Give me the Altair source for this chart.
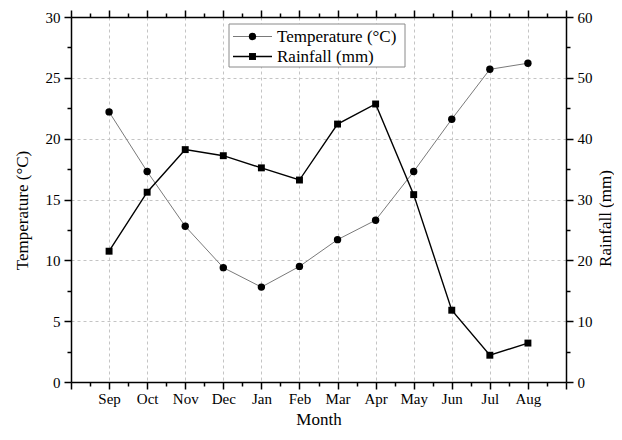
import altair as alt
import pandas as pd

# ---- data ----
months = ["Sep", "Oct", "Nov", "Dec", "Jan", "Feb", "Mar", "Apr", "May", "Jun", "Jul", "Aug"]
month_pos = [1, 2, 3, 4, 5, 6, 7, 8, 9, 10, 11, 12]
temperature = [22.2, 17.3, 12.8, 9.4, 7.8, 9.5, 11.7, 13.3, 17.3, 21.6, 25.7, 26.2]
rainfall = [21.5, 31.2, 38.2, 37.2, 35.2, 33.2, 42.4, 45.7, 30.8, 11.8, 4.4, 6.4]
series = ["Temperature (°C)", "Rainfall (mm)"]

x_ticks = [0, 0.5, 1, 1.5, 2, 2.5, 3, 3.5, 4, 4.5, 5, 5.5, 6, 6.5, 7, 7.5,
           8, 8.5, 9, 9.5, 10, 10.5, 11, 11.5, 12, 12.5, 13]
temp_ticks = [0, 2.5, 5, 7.5, 10, 12.5, 15, 17.5, 20, 22.5, 25, 27.5, 30]
rain_ticks = [0, 5, 10, 15, 20, 25, 30, 35, 40, 45, 50, 55, 60]

FONT = "Liberation Serif"

df = pd.DataFrame({"pos": month_pos, "month": months,
                   "temp": temperature, "rain": rainfall})

month_js = "[" + ",".join(f"'{m}'" for m in months) + "]"
x_label_expr = (f"(datum.value % 1 === 0 && datum.value >= 1 && datum.value <= 12) "
                f"? {month_js}[datum.value - 1] : ''")

x_tick_size = {"condition": {"test": "datum.value % 1 !== 0", "value": 4}, "value": 7}
x_grid_op = {"condition": {"test": "datum.value % 1 !== 0 || datum.value < 1 || datum.value > 12",
                           "value": 0}, "value": 1}

x_scale = alt.Scale(domain=[0, 13], nice=False, zero=False)

x_bottom = alt.X("pos:Q", scale=x_scale,
                 axis=alt.Axis(orient="bottom", values=x_ticks, labelExpr=x_label_expr,
                               tickSize=x_tick_size, grid=True, gridOpacity=x_grid_op,
                               labelPadding=2, title="Month", titleX=247.5, titleY=37,
                               titleAlign="center", titleBaseline="middle"))
x_top = alt.X("pos:Q", scale=x_scale,
              axis=alt.Axis(orient="top", values=x_ticks, labels=False,
                            tickSize=x_tick_size, grid=False, title=None))

y_temp = alt.Y("temp:Q", scale=alt.Scale(domain=[0, 30], nice=False),
               axis=alt.Axis(orient="left", values=temp_ticks,
                             labelExpr="datum.value % 5 === 0 ? datum.label : ''",
                             tickSize={"condition": {"test": "datum.value % 5 !== 0", "value": 4},
                                       "value": 7},
                             grid=True,
                             gridOpacity={"condition": {"test": "datum.value % 5 !== 0 || datum.value == 0 || datum.value == 30",
                                                        "value": 0}, "value": 1},
                             labelPadding=4,
                             title=series[0], titleX=-49, titleY=193, titleAngle=270,
                             titleAlign="center", titleBaseline="middle"))
y_rain = alt.Y("rain:Q", scale=alt.Scale(domain=[0, 60], nice=False),
               axis=alt.Axis(orient="right", values=rain_ticks,
                             labelExpr="datum.value % 10 === 0 ? datum.label : ''",
                             tickSize={"condition": {"test": "datum.value % 10 !== 0", "value": 4},
                                       "value": 7},
                             grid=False, labelPadding=4,
                             title=series[1], titleX=39, titleY=201, titleAngle=270,
                             titleAlign="center", titleBaseline="middle"))

base = alt.Chart(df)
temp_layer = alt.layer(
    base.mark_line(color="#7a7a7a", strokeWidth=1).encode(x=x_bottom, y=y_temp),
    base.mark_point(shape="circle", filled=True, color="black", opacity=1, size=55)
        .encode(x=x_bottom, y=y_temp),
)
rain_layer = alt.layer(
    base.mark_line(color="black", strokeWidth=1.4).encode(x=x_top, y=y_rain),
    base.mark_point(shape="square", filled=True, color="black", opacity=1, size=48)
        .encode(x=x_top, y=y_rain),
)

# ---- legend (drawn by hand inside the plot) ----
one = alt.Chart(pd.DataFrame({"k": [0]}))
leg_box = one.mark_rect(fill="white", stroke="#8a8a8a", strokeWidth=1).encode(
    x=alt.value(158), x2=alt.value(334), y=alt.value(7), y2=alt.value(50))
leg_t_line = one.mark_rule(color="#7a7a7a", strokeWidth=1).encode(
    x=alt.value(162), x2=alt.value(201), y=alt.value(19.5))
leg_t_pt = one.mark_point(shape="circle", filled=True, color="black", opacity=1, size=55).encode(
    x=alt.value(181.5), y=alt.value(19.5))
leg_t_txt = one.mark_text(align="left", baseline="middle", font=FONT, fontSize=17,
                          color="black").encode(
    x=alt.value(206), y=alt.value(19.5), text=alt.value(series[0]))
leg_r_line = one.mark_rule(color="black", strokeWidth=1.4).encode(
    x=alt.value(162), x2=alt.value(201), y=alt.value(39.5))
leg_r_pt = one.mark_point(shape="square", filled=True, color="black", opacity=1, size=48).encode(
    x=alt.value(181.5), y=alt.value(39.5))
leg_r_txt = one.mark_text(align="left", baseline="middle", font=FONT, fontSize=17,
                          color="black").encode(
    x=alt.value(206), y=alt.value(39.5), text=alt.value(series[1]))

chart = (
    alt.layer(temp_layer, rain_layer, leg_box, leg_t_line, leg_t_pt, leg_t_txt,
              leg_r_line, leg_r_pt, leg_r_txt)
    .resolve_scale(y="independent")
    .resolve_axis(x="independent", y="independent")
    .properties(width=495, height=365,
                autosize=alt.AutoSizeParams(type="none"),
                padding={"left": 63, "top": 9, "right": 48, "bottom": 50},
                background="white")
    .configure_view(stroke=None)
    .configure_axis(labelFont=FONT, titleFont=FONT, labelFontSize=15, titleFontSize=17,
                    labelColor="black", titleColor="black", titleFontWeight="normal",
                    domainColor="black", domainWidth=1.5, tickColor="black", tickWidth=1.5,
                    gridColor="#c4c4c4", gridDash=[3, 3], gridWidth=1)
)

chart.save("out.html", embed_options={"renderer": "svg", "actions": False})
